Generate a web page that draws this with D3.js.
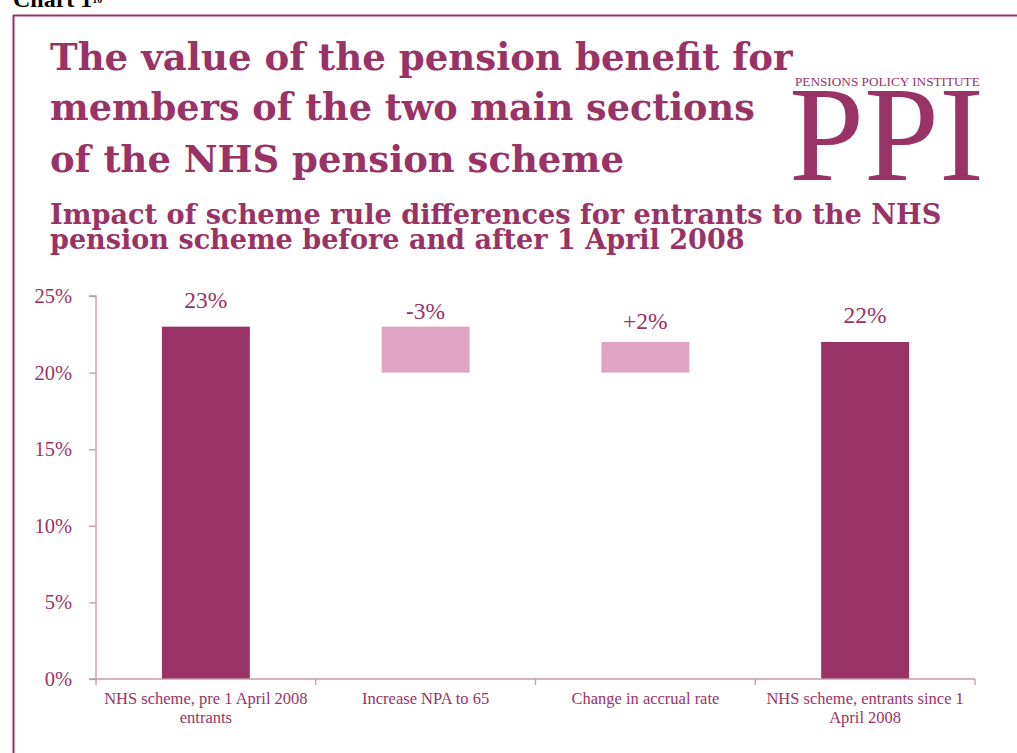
<!DOCTYPE html>
<html><head><meta charset="utf-8">
<script src="https://cdn.jsdelivr.net/npm/d3@7"></script>
<style>body{margin:0;background:#fff}svg{display:block}</style>
</head><body>
<svg id="c" width="1017" height="753"></svg>
<script>
const categories = ["NHS scheme, pre 1 April 2008 entrants","Increase NPA to 65","Change in accrual rate","NHS scheme, entrants since 1 April 2008"];
const categoryLines = [["NHS scheme, pre 1 April 2008","entrants"],["Increase NPA to 65"],["Change in accrual rate"],["NHS scheme, entrants since 1","April 2008"]];
const barBase = [0, 20, 20, 0];
const barTop = [23, 23, 22, 22];
const barLabels = ["23%","-3%","+2%","22%"];
const barKind = ["total","change","change","total"];
const yTicks = [0,5,10,15,20,25];

const C = "#993366", LIGHT = "#e0a3c2", AX = "#c49aa9";
const svg = d3.select("#c");
const serif = "'Liberation Serif', 'DejaVu Serif', serif";

// frame
svg.append("line").attr("x1",13).attr("x2",1017).attr("y1",15.5).attr("y2",15.5).attr("stroke",C).attr("stroke-width",2);
svg.append("line").attr("x1",13.5).attr("x2",13.5).attr("y1",15).attr("y2",753).attr("stroke",C).attr("stroke-width",2);

// Chart 1 header (cut off)
const hdr = svg.append("text").attr("x",13).attr("y",7).attr("font-family",serif).attr("font-weight","bold").attr("font-size",24).attr("fill","#000");
hdr.append("tspan").text("Chart 1");
hdr.append("tspan").attr("font-size",10).attr("dy",-4).text("10");

function fit(t, w){
  const cur = +t.attr("font-size");
  const len = t.node().getComputedTextLength();
  t.attr("font-size", cur * w / len);
}

const titleLines = [["The value of the pension benefit for",70,743],["members of the two main sections",120,705],["of the NHS pension scheme",172,574]];
titleLines.forEach(([s,y,w])=>{
  const t = svg.append("text").attr("x",50).attr("y",y).attr("font-family","'DejaVu Serif', serif").attr("font-weight","bold").attr("font-size",40).attr("fill",C).text(s);
  fit(t,w);
});
const subLines = [["Impact of scheme rule differences for entrants to the NHS",224,892],["pension scheme before and after 1 April 2008",249,695]];
subLines.forEach(([s,y,w])=>{
  const t = svg.append("text").attr("x",50).attr("y",y).attr("font-family","'DejaVu Serif', serif").attr("font-weight","bold").attr("font-size",26).attr("fill",C).text(s);
  fit(t,w);
});

// logo
const lg1 = svg.append("text").attr("x",795).attr("y",86).attr("font-family",serif).attr("font-size",12).attr("fill",C).text("PENSIONS POLICY INSTITUTE");
fit(lg1,185);
const lg2 = svg.append("text").attr("x",789).attr("y",180).attr("font-family",serif).attr("font-size",120).attr("fill",C).text("PPI");
fit(lg2,195);

// chart
const x0 = 96, x1 = 975, yTop = 296, yBot = 679;
const x = d3.scaleBand().domain(categories).range([x0,x1]).paddingInner(0.6).paddingOuter(0.3);
const y = d3.scaleLinear().domain([0,25]).range([yBot,yTop]);

const bars = categories.map((c,i)=>({c,i,b:barBase[i],t:barTop[i],k:barKind[i],l:barLabels[i]}));
svg.append("g").selectAll("rect").data(bars).join("rect")
  .attr("x",d=>x(d.c)).attr("width",x.bandwidth())
  .attr("y",d=>y(d.t)).attr("height",d=>y(d.b)-y(d.t))
  .attr("fill",d=>d.k==="total"?C:LIGHT);

const labelOffset = [27,16,21,27];
svg.append("g").selectAll("text").data(bars).join("text")
  .attr("x",d=>x(d.c)+x.bandwidth()/2)
  .attr("y",d=>y(d.t)-labelOffset[d.i]+8)
  .attr("text-anchor","middle").attr("font-family",serif).attr("font-size",23.5).attr("fill",C)
  .text(d=>d.l);

// y axis
const ya = svg.append("g").attr("transform",`translate(${x0},0)`)
  .call(d3.axisLeft(y).tickValues(yTicks).tickFormat(d=>d+"%").tickSize(7).tickPadding(17));
ya.select(".domain").attr("stroke",AX).attr("stroke-width",1.3).attr("d",`M-7,${yTop}H0V${yBot}H-7`);
ya.selectAll(".tick line").attr("stroke",AX).attr("stroke-width",1.3);
ya.selectAll(".tick text").attr("font-family",serif).attr("font-size",20.5).attr("fill",C);

// x axis
const xBand = d3.scaleBand().domain(categories).range([x0,x1]);
const xa = svg.append("g").attr("transform",`translate(0,${yBot})`);
xa.append("line").attr("x1",x0).attr("x2",x1).attr("y1",0).attr("y2",0).attr("stroke",AX).attr("stroke-width",1.3);
const edges = categories.map(c=>xBand(c)).concat([x1]);
xa.selectAll("line.t").data(edges).join("line").attr("class","t")
  .attr("x1",d=>d).attr("x2",d=>d).attr("y1",0).attr("y2",6).attr("stroke",AX).attr("stroke-width",1.3);
const xl = xa.selectAll("text").data(categories).join("text")
  .attr("x",c=>xBand(c)+xBand.bandwidth()/2).attr("y",25)
  .attr("text-anchor","middle").attr("font-family",serif).attr("font-size",16.5).attr("fill",C);
xl.selectAll("tspan").data((c,i)=>categoryLines[i]).join("tspan")
  .attr("x",function(){return d3.select(this.parentNode).attr("x");})
  .attr("dy",(d,j)=>j===0?0:19).text(d=>d);
</script>
</body></html>
